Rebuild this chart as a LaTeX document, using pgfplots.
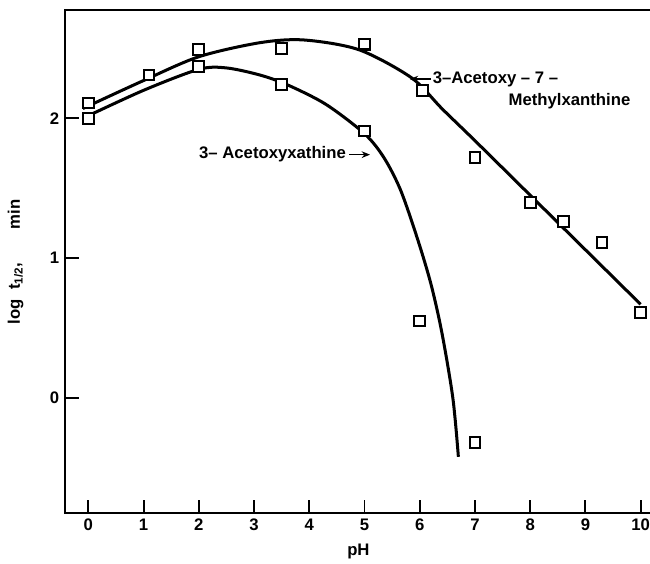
\documentclass[border=0pt]{standalone}
\usepackage{fontspec}
\setmainfont{Liberation Sans}
\usepackage{pgfplots}
\pgfplotsset{compat=1.18}
\usetikzlibrary{arrows.meta}
\begin{document}
\begin{tikzpicture}
\useasboundingbox (-39pt,-30pt) rectangle (350pt,307.2pt);
\begin{axis}[
  at={(0,0)}, anchor=south west,
  scale only axis, width=351pt, height=301.2pt,
  xmin=-0.42, xmax=10.2, ymin=-0.824, ymax=2.774,
  xtick={0,...,10}, ytick={0,1,2},
  xtick pos=left, ytick pos=left, tick align=inside,
  major tick length=8pt,
  axis line style={line width=1.2pt},
  every tick/.style={black, line width=1.1pt},
  /pgf/number format/assume math mode=true,
  ticklabel style={font=\bfseries},
  xlabel={pH}, ylabel={log\ \ t\textsubscript{1/2},\qquad min},
  label style={font=\bfseries},
  xlabel style={yshift=-1pt},
  ylabel style={yshift=9pt},
  clip=false,
]
\addplot[black, line width=1.8pt, smooth, tension=0.5] coordinates {
(-0.1,2.07) (1,2.27) (2,2.44) (3.1,2.54) (3.9,2.56) (4.9,2.49) (5.85,2.29) (6.4,2.07) (7,1.84) (8,1.45) (9,1.06) (10,0.67)};
\addplot[black, line width=1.8pt, smooth, tension=0.5] coordinates {
(-0.1,2.0) (1,2.2) (2,2.35) (2.5,2.36) (3.1,2.31) (3.6,2.24) (4.3,2.1) (5,1.89) (5.35,1.72) (5.65,1.49) (5.95,1.15) (6.2,0.82) (6.4,0.47) (6.6,0.0) (6.7,-0.42)};
\addplot[only marks, mark=square*, mark size=3.2pt, mark options={fill=white, draw=black, line width=1.2pt}] coordinates {
(0,2.11) (1.1,2.31) (2,2.49) (3.5,2.50) (5,2.53) (6.05,2.20) (7,1.72) (8,1.40) (8.6,1.26) (9.3,1.11) (10,0.61)};
\addplot[only marks, mark=square*, mark size=3.2pt, mark options={fill=white, draw=black, line width=1.2pt}] coordinates {
(0,2.0) (2,2.37) (3.5,2.24) (5,1.91) (6,0.55) (7,-0.32)};
\draw[-{Stealth[length=5pt,width=4pt]}, line width=1pt] (axis cs:4.72,1.74) -- (axis cs:5.1,1.74);
\node[anchor=east, font=\bfseries, inner sep=1pt] at (axis cs:4.7,1.74) {3– Acetoxyxathine};
\draw[-{Stealth[length=5pt,width=4pt]}, line width=1pt] (axis cs:6.2,2.28) -- (axis cs:5.82,2.28);
\node[anchor=west, font=\bfseries, inner sep=1pt] at (axis cs:6.2,2.28) {3–Acetoxy – 7 –};
\node[anchor=east, font=\bfseries, inner sep=1pt] at (axis cs:9.85,2.12) {Methylxanthine};
\end{axis}
\end{tikzpicture}
\end{document}
